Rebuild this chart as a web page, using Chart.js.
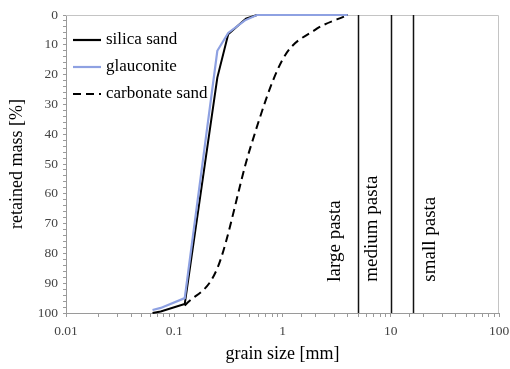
<!DOCTYPE html>
<html>
<head>
<meta charset="utf-8">
<script src="https://cdn.jsdelivr.net/npm/chart.js@4/dist/chart.umd.min.js"></script>
<style>
  html, body { margin: 0; padding: 0; background: #fff; }
  #wrap { width: 510px; height: 369px; }
</style>
</head>
<body>
<div id="wrap"><canvas id="sieveChart" width="510" height="369"></canvas></div>
<script>
// grain size [mm] vs retained mass [%]
var silicaSize = [0.063, 0.075, 0.125, 0.25, 0.315, 0.46, 0.58, 4];
var silicaMass = [100, 99.5, 97, 21, 6.5, 1.2, 0, 0];
var glaucSize  = [0.063, 0.075, 0.125, 0.25, 0.315, 0.45, 0.58, 4];
var glaucMass  = [99, 98.3, 95, 12, 6, 1.8, 0, 0];
var carbSize   = [0.125, 0.25, 0.5, 1, 2, 4];
var carbMass   = [97.5, 85, 45, 15, 5, 0];

var pastaSizes  = [5, 10, 16];
var pastaLabels = ['large pasta', 'medium pasta', 'small pasta'];
var xTickLabels = [0.01, 0.1, 1, 10, 100];

var serif = '"Liberation Serif", "DejaVu Serif", serif';

function pts(xs, ys) {
    return xs.map(function(x, i) { return {x: x, y: ys[i]}; });
}

var seriesStyles = [
    {label: 'silica sand', color: '#000000', dash: []},
    {label: 'glauconite', color: '#8ea1e2', dash: []},
    {label: 'carbonate sand', color: '#000000', dash: [8, 5]}
];

var extras = {
    id: 'extras',
    beforeDatasetsDraw: function(chart) {
        // light frame on top and right
        var ctx = chart.ctx, area = chart.chartArea;
        ctx.save();
        ctx.strokeStyle = '#c4c4c4';
        ctx.lineWidth = 1;
        ctx.beginPath();
        ctx.moveTo(area.left, area.top + 0.5);
        ctx.lineTo(area.right - 0.5, area.top + 0.5);
        ctx.lineTo(area.right - 0.5, area.bottom);
        ctx.stroke();
        ctx.restore();
    },
    afterDatasetsDraw: function(chart) {
        var ctx = chart.ctx, xs = chart.scales.x, ys = chart.scales.y;
        var area = chart.chartArea;
        ctx.save();
        ctx.strokeStyle = '#111';
        ctx.lineWidth = 1.5;
        pastaSizes.forEach(function(v) {
            var px = Math.round(xs.getPixelForValue(v)) + 0.5;
            ctx.beginPath();
            ctx.moveTo(px, ys.getPixelForValue(0));
            ctx.lineTo(px, ys.getPixelForValue(100));
            ctx.stroke();
        });
        // label offsets from their line
        var offs = [-23, -19, 17];
        ctx.fillStyle = '#000';
        ctx.font = '19px ' + serif;
        ctx.textBaseline = 'middle';
        ctx.textAlign = 'left';
        pastaLabels.forEach(function(t, i) {
            var px = xs.getPixelForValue(pastaSizes[i]) + offs[i];
            ctx.save();
            ctx.translate(px, ys.getPixelForValue(89.5));
            ctx.rotate(-Math.PI / 2);
            ctx.fillText(t, 0, 0);
            ctx.restore();
        });
        // legend
        ctx.font = '17px ' + serif;
        seriesStyles.forEach(function(s, i) {
            var y = area.top + 25 + i * 27;
            ctx.strokeStyle = s.color;
            ctx.lineWidth = 2.2;
            ctx.setLineDash(s.dash);
            ctx.beginPath();
            ctx.moveTo(area.left + 7, y);
            ctx.lineTo(area.left + 35, y);
            ctx.stroke();
            ctx.setLineDash([]);
            ctx.fillStyle = '#000';
            ctx.fillText(s.label, area.left + 40, y);
        });
        ctx.restore();
    }
};

document.addEventListener('DOMContentLoaded', function() {
    var ctx = document.getElementById('sieveChart').getContext('2d');
    var sieveChart = new Chart(ctx, {
        type: 'line',
        data: {
            datasets: [{
                label: 'silica sand',
                data: pts(silicaSize, silicaMass),
                borderColor: '#000',
                borderWidth: 2,
                pointRadius: 0,
                tension: 0,
                fill: false,
                clip: false,
                order: 2
            }, {
                label: 'glauconite',
                data: pts(glaucSize, glaucMass),
                borderColor: '#8ea1e2',
                borderWidth: 2.2,
                pointRadius: 0,
                tension: 0,
                fill: false,
                clip: false,
                order: 1
            }, {
                label: 'carbonate sand',
                data: pts(carbSize, carbMass),
                borderColor: '#000',
                borderWidth: 2,
                borderDash: [8, 5],
                pointRadius: 0,
                cubicInterpolationMode: 'monotone',
                fill: false,
                clip: false,
                order: 3
            }]
        },
        plugins: [extras],
        options: {
            responsive: false,
            animation: false,
            layout: { padding: { top: 15, right: 0, left: 6, bottom: 4 } },
            plugins: {
                legend: { display: false },
                tooltip: { enabled: false }
            },
            scales: {
                x: {
                    type: 'logarithmic',
                    min: 0.01,
                    max: 100,
                    afterFit: function(s) { s.height = 52; s.paddingRight = 11; },
                    grid: {
                        drawOnChartArea: false,
                        tickLength: 4,
                        color: '#9a9a9a'
                    },
                    border: { color: '#9a9a9a' },
                    ticks: {
                        autoSkip: false,
                        maxRotation: 0,
                        padding: 6,
                        color: '#444',
                        font: { family: serif, size: 13.5 },
                        callback: function(v) {
                            return xTickLabels.indexOf(Number(v)) >= 0 ? String(v) : '';
                        }
                    },
                    title: {
                        display: true,
                        text: 'grain size [mm]',
                        color: '#000',
                        font: { family: serif, size: 18 },
                        padding: { top: 0, bottom: 0 }
                    }
                },
                y: {
                    reverse: true,
                    min: 0,
                    max: 100,
                    afterFit: function(s) { s.width = 60; },
                    grid: {
                        drawOnChartArea: false,
                        tickLength: 3,
                        color: '#9a9a9a'
                    },
                    border: { color: '#9a9a9a' },
                    ticks: {
                        stepSize: 2,
                        autoSkip: false,
                        padding: 5,
                        color: '#444',
                        font: { family: serif, size: 13.5 },
                        callback: function(v) { return v % 10 === 0 ? String(v) : ''; }
                    },
                    title: {
                        display: true,
                        text: 'retained mass [%]',
                        color: '#000',
                        font: { family: serif, size: 18 },
                        padding: { top: 0, bottom: 0 }
                    }
                }
            }
        }
    });
});
</script>
</body>
</html>
